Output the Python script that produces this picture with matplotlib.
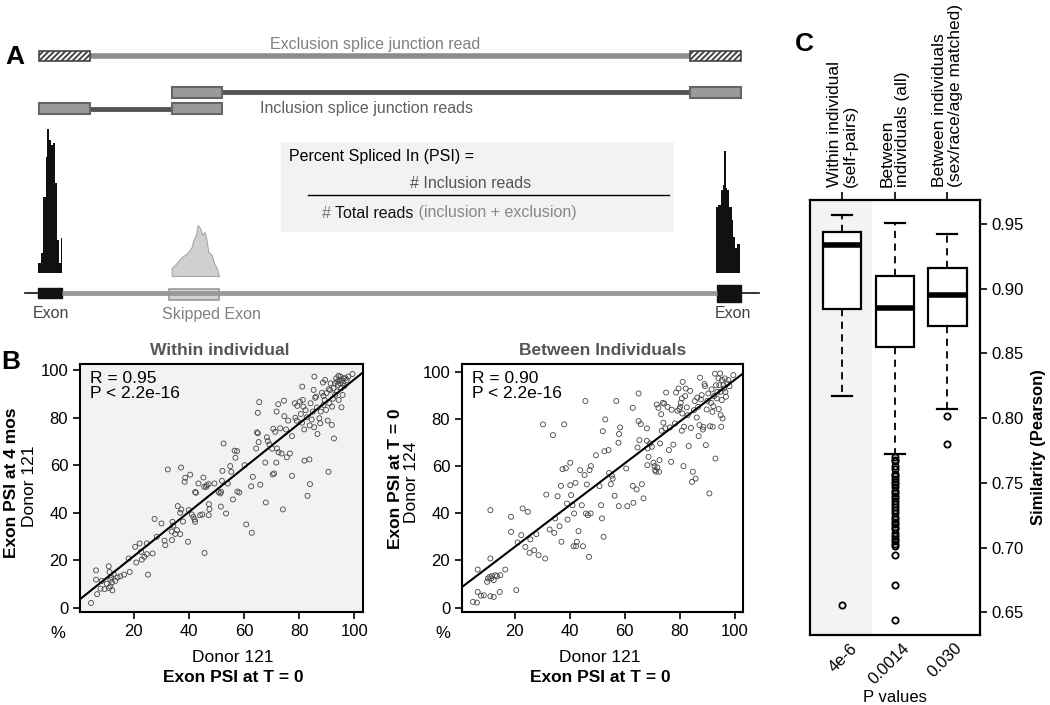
import numpy as np
import matplotlib.pyplot as plt
from matplotlib.patches import Rectangle
from matplotlib import transforms

plt.rcParams['font.family'] = ['Liberation Sans', 'DejaVu Sans']
plt.rcParams['hatch.linewidth'] = 1.4

# ---------------- data ----------------
# coverage tracks (bin edges in px along the gene, heights of reads)
left_cov_edges = [38, 40.7, 43.3, 45.7, 47.3, 49, 50.7, 52.7, 54.7, 56.7, 59.3, 60.7, 62.3]
left_cov = [10, 20, 76, 116, 144, 133, 128, 130, 90, 33, 10, 35]
skip_cov_x = [171.7, 176.7, 181.7, 185, 188.3, 191.7, 193.3, 196, 197.7, 200, 202.3, 204.3, 206,
              208.3, 211.7, 214, 216.7, 219]
skip_cov = [8, 13, 19, 21, 24, 29, 36, 41, 51, 48, 41, 44, 39, 24, 21, 13, 8, 0]
right_cov_edges = [716, 718.3, 720.7, 722.7, 724.3, 725.7, 727.3, 729.3, 731.7, 733.3, 735.3, 737.3, 740]
right_cov = [66, 68, 83, 88, 122, 85, 83, 66, 53, 36, 25, 29]

# B: exon PSI, within individual (donor 121, T=0 vs 4 mos)
within_x = [4.6, 6.4, 6.4, 6.8, 8, 8.5, 9.5, 10.3, 11, 11.1,
            11.3, 11.6, 11.9, 12.2, 11.6, 12.3, 12.8, 13.4, 14.2, 15.2,
            16.6, 18.6, 18.2, 20.6, 21, 22.2, 22.7, 23, 23.9, 24.8,
            24.8, 25.2, 26.9, 27.6, 28.4, 30.1, 31.2, 31.5, 32.4, 33.8,
            33.9, 34.1, 34.4, 35.1, 35.7, 36, 36.9, 36.9, 37.2, 37.3,
            37.9, 38.5, 38.7, 39.7, 40, 40.5, 41.1, 41.6, 42.1, 42.3,
            42.3, 42.6, 43.5, 44.1, 44.9, 45.3, 45.6, 45.7, 46.3, 46.5,
            47.2, 47.3, 47.2, 47.5, 49.3, 50.8, 51.4, 52, 51.7, 52.2,
            52.6, 51.6, 53.5, 54.1, 55, 55.4, 56, 56.6, 57.5, 56.9,
            57.6, 58.3, 60.2, 60.8, 62.6, 62.8, 63.2, 64.4, 64.7, 65,
            65, 65.3, 65.5, 65.9, 67.7, 67.9, 68.3, 68.6, 69.2, 70.2,
            70.4, 70.9, 70.6, 71.3, 71.7, 71.9, 71.8, 72.4, 72.5, 73.1,
            73.6, 74.1, 74.5, 74.6, 75.2, 75.5, 76, 76.6, 77.4, 77.4,
            78.4, 78.6, 79.1, 79.3, 80.2, 80.6, 81, 81.1, 81.3, 81.5,
            81.8, 81.9, 82.3, 82.7, 83, 83.7, 83.8, 83.9, 84.1, 84.5,
            84.9, 85.2, 85.4, 85.5, 85.8, 86.1, 86.4, 86.6, 87.3, 87.6,
            87.8, 88.2, 88.6, 88.8, 88.8, 89.2, 89.4, 89.7, 89.9, 90.3,
            90.6, 90.7, 90.9, 91.2, 91.4, 91.8, 91.9, 92.2, 92.4, 92.6,
            92.9, 93, 93.4, 93.6, 93.8, 94, 94.2, 94.3, 94.6, 94.8,
            94.9, 95.2, 95.3, 95.4, 95.7, 95.8, 96, 96.4, 96.7, 97.2,
            97.8, 99.3]
within_y = [2.1, 11.9, 15.8, 5.8, 8.1, 11.4, 7.9, 10.2, 17.5, 8.4,
            15.1, 11.9, 13, 10.7, 9.1, 7.4, 14.2, 11.4, 12.8, 13.3,
            14, 15.1, 20.8, 25.7, 19.1, 27.1, 23.6, 20.3, 21.5, 27.1,
            22.6, 14, 22.9, 37.4, 29.9, 35.5, 28.3, 26.4, 58.2, 32.1,
            28.5, 36.2, 34.6, 31.1, 32.7, 42.8, 31, 40, 59, 41.4,
            36.3, 53, 54.7, 27.8, 41.1, 56, 39.3, 38.3, 37.2, 36.2,
            48.7, 48.4, 52.3, 39, 39.3, 54.8, 50.9, 23.1, 50.9, 51.6,
            52, 43.6, 39, 41.5, 52.3, 48.7, 48.1, 53.4, 48.8, 57.6,
            69.1, 42.6, 39.7, 52.3, 59.6, 57.2, 45.6, 66.1, 65.9, 63.1,
            48.9, 48.5, 60, 35.1, 51.1, 31.6, 55.1, 67, 73.8, 73.4,
            82, 69.7, 86.5, 51.8, 61.1, 44.3, 71.7, 70.1, 68.7, 66.9,
            56.1, 56.5, 75.3, 74, 61.1, 67, 82.5, 85.6, 65.4, 75.5,
            64.9, 41.4, 87.1, 80.6, 75, 63.3, 78.7, 64.9, 72.2, 55.5,
            86, 79.9, 78.7, 84.9, 86.7, 81.5, 77.8, 93, 87.4, 84.6,
            75, 61.9, 83.1, 80.1, 47.1, 62.4, 76.7, 52, 86, 79.2,
            82.5, 91.6, 75.9, 97.2, 88.3, 88.8, 84.2, 73.1, 79.7, 77.6,
            82.5, 90.4, 94.7, 85.3, 89.1, 87.4, 95.8, 83.2, 90.3, 78.7,
            57.2, 91.9, 86, 91.6, 94.4, 76.9, 84.6, 87.9, 92.3, 71.2,
            94.4, 89.6, 96.5, 91, 95.1, 93.7, 97.5, 87.4, 95.8, 94.4,
            97.2, 92.3, 84.3, 95.5, 89.5, 94.4, 96.5, 93.3, 96.5, 95.8,
            97.2, 98.3]

# B: exon PSI, between individuals (donor 121 vs donor 124)
between_x = [4.9, 6.3, 6.6, 6.6, 7.8, 8.8, 10, 10.3, 10.9, 11.2,
             11.2, 11.2, 11.5, 11.8, 12.4, 12.4, 13, 13.6, 14.6, 14.8,
             16.6, 18.7, 18.7, 20.6, 21.1, 22.4, 22.9, 23.9, 24.8, 25.4,
             25.7, 27.1, 27.9, 28.7, 30.3, 31.1, 31.5, 33.9, 32.7, 34.4,
             34.7, 35.6, 36.3, 36.8, 37, 37.4, 38, 38.6, 39, 39.2,
             40.2, 40.2, 40.5, 41, 41.4, 41.6, 42.1, 42.3, 42.6, 43.2,
             43.8, 44.4, 44.8, 45.4, 45.7, 45.9, 46.2, 46.6, 47, 47.2,
             47.6, 47.7, 49.5, 50.8, 51.4, 51.7, 52, 52.3, 52.6, 52.9,
             54.1, 54.3, 54.9, 55.3, 55.6, 56.3, 56.9, 57.7, 57.8, 57.9,
             58.3, 60.5, 60.9, 62.9, 62.9, 63.1, 64.3, 64.6, 65, 65,
             65.3, 65.8, 66.2, 66.8, 68, 68, 68.2, 68.6, 68.3, 69.2,
             69.8, 70.4, 70.8, 71, 71.3, 71.6, 71.8, 72.2, 72.4, 72.6,
             72.8, 73.2, 73.4, 73.8, 74, 74.3, 74.7, 75, 75.5, 76,
             76.4, 76.8, 77, 77.6, 78.2, 78.6, 79.1, 79.5, 79.8, 80.1,
             80.3, 80.7, 80.7, 80.9, 81, 81.3, 81.5, 81.9, 82.1, 82.5,
             82.8, 83.2, 83.7, 84, 84.4, 84.7, 85.1, 85.4, 85.7, 86.1,
             86.3, 86.6, 86.8, 87.1, 87.3, 87.6, 87.9, 88.3, 88.5, 88.9,
             89.1, 89.4, 89.7, 90, 90.3, 90.7, 90.9, 91.3, 91.5, 91.8,
             91.9, 92.1, 92.4, 92.7, 92.9, 93.1, 93.4, 93.6, 94, 94.1,
             94.3, 94.6, 94.7, 94.8, 95, 95.2, 95.3, 95.5, 95.8, 96,
             96.3, 96.5, 96.7, 97.2, 97.6, 98, 99.4]
between_y = [2.4, 2.1, 6.6, 16.1, 5, 5.2, 10.9, 12.3, 13, 20.8,
             41.3, 4.8, 12.3, 13.3, 11.6, 4.5, 13.7, 13.3, 6.6, 13.7,
             16.1, 32.1, 38.5, 7.4, 27.6, 30.7, 42, 25.7, 40.6, 23.2,
             28.9, 24.3, 31.1, 22.2, 77.7, 20.8, 47.9, 73.1, 33.1, 31.7,
             37.8, 47.2, 34.5, 51.6, 27.9, 58.7, 77.7, 59.1, 44.1, 37.3,
             51.9, 61.4, 47.7, 43.4, 26, 39.9, 52.9, 26, 27.9, 32.4,
             58.3, 43.4, 26, 56.2, 87.6, 39.9, 52.2, 39.2, 21.5, 58.3,
             39.9, 60, 64.6, 51.5, 43.4, 37.8, 74.8, 30, 66.3, 79.8,
             66.8, 57.1, 52.3, 55.9, 54.7, 47.4, 87.6, 69.9, 43, 73.6,
             76.4, 59, 43, 84.7, 51.6, 44.4, 50.1, 67.9, 90.8, 79.1,
             71, 77.8, 52.3, 46.3, 76, 70.7, 60.4, 63.9, 67.5, 69.6,
             68.2, 61.4, 60, 58.3, 57.6, 86.1, 59.4, 84.7, 57.6, 62.5,
             69.6, 82, 75, 86.8, 78.4, 86.5, 76, 91.2, 85.1, 66.8,
             76.4, 61.8, 83.9, 69.1, 78.1, 91.2, 83.5, 92.9, 84.2, 85.1,
             86.8, 88.7, 75, 82.3, 95.7, 60, 76.7, 89.7, 92.9, 84.9,
             81.6, 68.5, 91.9, 76.2, 53.3, 57.6, 83.7, 87.6, 54.7, 80.6,
             89, 85.1, 72.7, 77.4, 97.5, 88.3, 90.1, 75.5, 76.6, 94.8,
             93.9, 68.9, 84, 87.7, 90.8, 48.4, 76.9, 86.8, 92.5, 83,
             76.7, 85.4, 89.7, 99.2, 63.2, 94.3, 88.7, 91.5, 97.2, 84.2,
             94.3, 99.3, 91.5, 81.6, 76.7, 88, 96.5, 80.2, 94.3, 92.9,
             97.2, 91.5, 89.4, 95, 96.5, 93.9, 98.6]

# fitted lines (intercept, slope)
within_fit = (3.1, 0.93)
between_fit = (7.9, 0.888)

# C: similarity box plots
groups = ['Within individual\n(self-pairs)', 'Between\nindividuals (all)',
          'Between individuals\n(sex/race/age matched)']
p_values = ['4e-6', '0.0014', '0.030']
box_q1 = [0.884, 0.855, 0.871]
box_med = [0.934, 0.885, 0.895]
box_q3 = [0.944, 0.910, 0.916]
whisk_lo = [0.817, 0.772, 0.807]
whisk_hi = [0.957, 0.951, 0.942]
outliers = [
    [0.656],
    [0.770, 0.768, 0.767, 0.763, 0.761, 0.757, 0.755, 0.753, 0.751, 0.749, 0.747, 0.744,
     0.742, 0.740, 0.738, 0.736, 0.734, 0.731, 0.729, 0.727, 0.724, 0.722, 0.720, 0.718,
     0.716, 0.714, 0.711, 0.709, 0.707, 0.705, 0.703, 0.701, 0.694, 0.671, 0.644],
    [0.802, 0.780],
]

W, H = 1050, 705


def fx(x):
    return x / W


def fy(y):
    return 1 - y / H


fig = plt.figure(figsize=(10.5, 7.05), dpi=100)

# ---------------- panel A (drawn in pixel units) ----------------
axA = fig.add_axes([0, fy(330), fx(780), 330 / H])
axA.set_xlim(0, 780)
axA.set_ylim(330, 0)
axA.axis('off')

# exclusion read
axA.plot([90, 690], [56, 56], color='#8c8c8c', lw=4, solid_capstyle='butt', zorder=1)
for x0 in (39, 690):
    axA.add_patch(Rectangle((x0, 51), 51, 10, facecolor='white', edgecolor='#444444',
                            hatch='//////', lw=1.2, zorder=2))
axA.text(375, 44, 'Exclusion splice junction read', color='#808080', fontsize=11.5,
         ha='center', va='center')

# inclusion reads
axA.plot([222, 690], [92.3, 92.3], color='#555555', lw=3.5, solid_capstyle='butt', zorder=1)
axA.plot([90, 172], [108.5, 108.5], color='#555555', lw=3.5, solid_capstyle='butt', zorder=1)
for x0, y0 in ((172, 87), (690, 87), (39, 103), (172, 103)):
    axA.add_patch(Rectangle((x0, y0), 51 if x0 != 172 else 50, 11, facecolor='#9a9a9a',
                            edgecolor='#666666', lw=1.5, zorder=2))
axA.text(260, 109, 'Inclusion splice junction reads', color='#606060', fontsize=11.5,
         ha='left', va='center')

# coverage
base = 273
axA.stairs([base - h for h in left_cov], left_cov_edges, baseline=base, fill=True,
           color='#111111')
axA.fill_between(skip_cov_x, [276 - h for h in skip_cov], 276, color='#d0d0d0',
                 edgecolor='#a8a8a8', lw=0.8)
axA.stairs([base - h for h in right_cov], right_cov_edges, baseline=base, fill=True,
           color='#111111')

# gene model
axA.plot([25, 38], [293, 293], color='#111111', lw=1.2)
axA.plot([62, 717], [293, 293], color='#999999', lw=3.5, solid_capstyle='butt')
axA.plot([741, 759], [293, 293], color='#111111', lw=1.2)
axA.add_patch(Rectangle((38, 288), 24, 10, facecolor='#111111', edgecolor='#111111'))
axA.add_patch(Rectangle((169, 288.5), 50, 11, facecolor='#d3d3d3', edgecolor='#999999', lw=1.2))
axA.add_patch(Rectangle((717, 285), 24, 16.5, facecolor='#111111', edgecolor='#111111'))
axA.text(51, 314, 'Exon', color='#444444', fontsize=11.5, ha='center', va='center')
axA.text(211, 314, 'Skipped Exon', color='#808080', fontsize=11.5, ha='center', va='center')
axA.text(733, 314, 'Exon', color='#444444', fontsize=11.5, ha='center', va='center')

# PSI formula box
axA.add_patch(Rectangle((281, 142), 393, 90, facecolor='#f2f2f2', edgecolor='none'))
axA.text(289, 157, 'Percent Spliced In (PSI) =', fontsize=11.5, ha='left', va='center')
axA.text(471, 183, '# Inclusion reads', color='#555555', fontsize=11.5, ha='center', va='center')
axA.plot([308, 669], [195, 195], color='black', lw=1)
t1 = axA.text(322, 213, '# ', color='#777777', fontsize=11.5, ha='left', va='center')
t2 = axA.annotate('Total reads', xy=(1, 0), xycoords=t1, va='bottom', ha='left',
                  fontsize=11.5, color='#111111')
axA.annotate(' (inclusion + exclusion)', xy=(1, 0), xycoords=t2, va='bottom', ha='left',
             fontsize=11.5, color='#888888')

fig.text(fx(15), fy(57), 'A', fontsize=19, fontweight='bold', ha='center', va='center')


# ---------------- panel B ----------------
def scatter_panel(left, right, xlim, ylim, xs, ys, fit, bg):
    ax = fig.add_axes([fx(left), fy(612), (right - left) / W, 248 / H])
    ax.set_facecolor(bg)
    ax.scatter(xs, ys, s=13, facecolors='none', edgecolors='#444444', linewidths=0.6, zorder=2)
    ax.axline((0, fit[0]), slope=fit[1], color='black', lw=1.5, zorder=3)
    ax.set_xlim(*xlim)
    ax.set_ylim(*ylim)
    ax.set_xticks([20, 40, 60, 80, 100])
    ax.set_yticks([0, 20, 40, 60, 80, 100])
    ax.tick_params(labelsize=12, length=5, width=1.2, direction='out')
    for s in ax.spines.values():
        s.set_linewidth(1.5)
    return ax


axB1 = scatter_panel(80, 363, (0.6, 103.1), (-1.7, 102.5), within_x, within_y, within_fit, '#f2f2f2')
axB2 = scatter_panel(462, 743, (0.9, 102.9), (-1.9, 103.3), between_x, between_y, between_fit, 'white')

for ax, r in ((axB1, 'R = 0.95'), (axB2, 'R = 0.90')):
    ax.text(0.035, 0.97, r + '\nP < 2.2e-16', transform=ax.transAxes, fontsize=12.5,
            ha='left', va='top', linespacing=0.95)

fig.text(fx(11), fy(362), 'B', fontsize=19, fontweight='bold', ha='center', va='center')
fig.text(fx(220), fy(350), 'Within individual', fontsize=12.5, fontweight='bold',
         color='#555555', ha='center', va='center')
fig.text(fx(603), fy(350), 'Between Individuals', fontsize=12.5, fontweight='bold',
         color='#555555', ha='center', va='center')
for cx, donor in ((233, 'Donor 121'), (600, 'Donor 121')):
    fig.text(fx(cx), fy(658), donor, fontsize=12.5, ha='center', va='center')
    fig.text(fx(cx), fy(678), 'Exon PSI at T = 0', fontsize=12.5, fontweight='bold',
             ha='center', va='center')
fig.text(fx(12), fy(483), 'Exon PSI at 4 mos', fontsize=12.5, fontweight='bold',
         rotation=90, ha='center', va='center')
fig.text(fx(30), fy(486), 'Donor 121', fontsize=12.5, rotation=90, ha='center', va='center')
fig.text(fx(396), fy(479), 'Exon PSI at T = 0', fontsize=12.5, fontweight='bold',
         rotation=90, ha='center', va='center')
fig.text(fx(412), fy(482), 'Donor 124', fontsize=12.5, rotation=90, ha='center', va='center')
fig.text(fx(58), fy(633), '%', fontsize=12, ha='center', va='center')
fig.text(fx(443), fy(633), '%', fontsize=12, ha='center', va='center')

# ---------------- panel C ----------------
axC = fig.add_axes([fx(810), fy(635), 170 / W, 435 / H])
axC.axvspan(0.385, 1.56, color='#f3f3f3', lw=0, zorder=0)
pos = [1, 2, 3]
stats = [dict(q1=box_q1[i], med=box_med[i], q3=box_q3[i], whislo=whisk_lo[i],
              whishi=whisk_hi[i], fliers=outliers[i]) for i in range(3)]
axC.bxp(stats, positions=pos, widths=0.73, capwidths=0.38, patch_artist=True,
        boxprops=dict(facecolor='white', edgecolor='black', lw=1.6),
        medianprops=dict(color='black', lw=4, solid_capstyle='butt'),
        whiskerprops=dict(color='black', lw=1.3, linestyle=(0, (4, 3))),
        capprops=dict(color='black', lw=1.6),
        flierprops=dict(marker='o', markerfacecolor='none', markeredgecolor='black',
                        markersize=4.5, markeredgewidth=1.3))
axC.set_xlim(0.385, 3.62)
axC.set_ylim(0.6325, 0.9685)
axC.yaxis.tick_right()
axC.set_yticks([0.65, 0.70, 0.75, 0.80, 0.85, 0.90, 0.95])
axC.set_yticklabels(['%.2f' % v for v in axC.get_yticks()])
axC.tick_params(axis='y', labelsize=12, length=5, width=1.2)
fig.text(fx(1039), fy(447), 'Similarity (Pearson)', fontsize=12, fontweight='bold',
         rotation=90, ha='center', va='center')
axC.set_xticks(pos)
axC.set_xticklabels(p_values, rotation=45, ha='right', rotation_mode='anchor', fontsize=12)
axC.tick_params(axis='x', length=0, pad=4)
shift = transforms.ScaledTranslation(0.07, 0, fig.dpi_scale_trans)
for lab in axC.get_xticklabels():
    lab.set_transform(lab.get_transform() + shift)
axC.set_xlabel('P values', fontsize=12, labelpad=2)
for s in axC.spines.values():
    s.set_linewidth(1.6)

top = axC.secondary_xaxis('top')
top.set_xticks(pos)
top.set_xticklabels(groups, rotation=90, ha='center', va='bottom', multialignment='left',
                    fontsize=12.5, linespacing=1.05)
top.tick_params(length=6, width=1.2, pad=3)
top.spines['top'].set_visible(False)

fig.text(fx(804), fy(44), 'C', fontsize=19, fontweight='bold', ha='center', va='center')

fig.savefig('out.png', dpi=100)
